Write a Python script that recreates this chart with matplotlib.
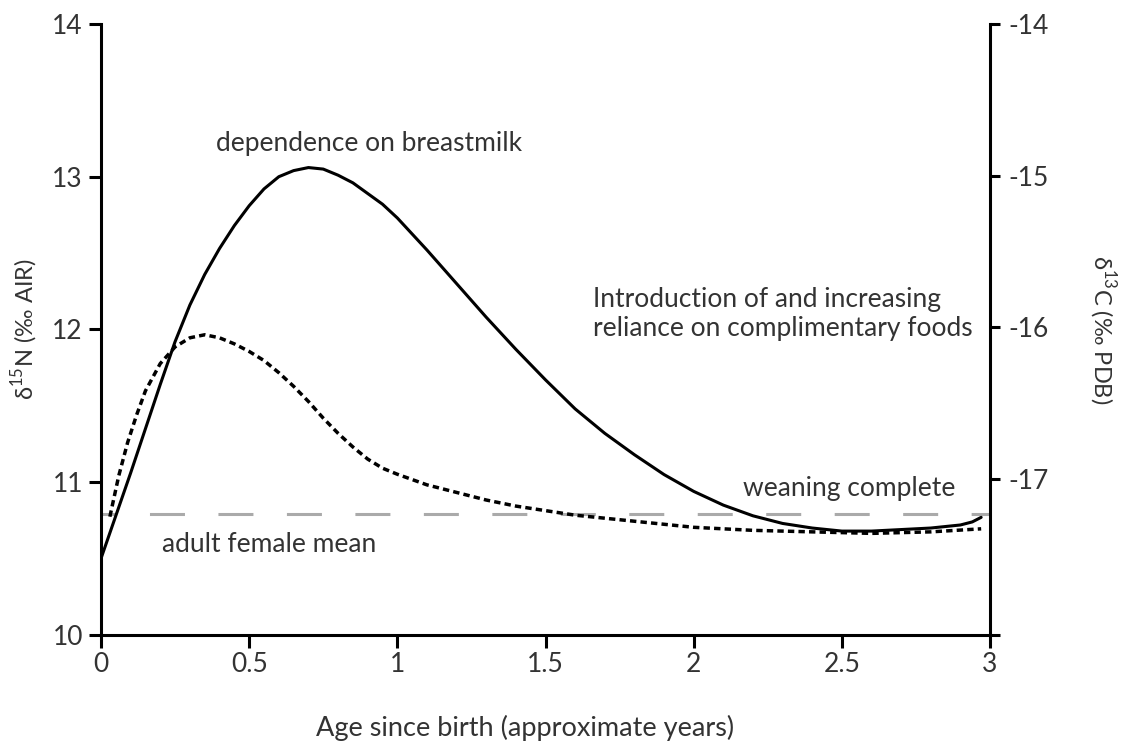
import matplotlib
matplotlib.use('Agg')
import matplotlib.pyplot as plt

plt.rcParams['font.family'] = ['Lato', 'DejaVu Sans']
plt.rcParams['mathtext.fontset'] = 'custom'
plt.rcParams['mathtext.rm'] = 'Lato'
plt.rcParams['lines.scale_dashes'] = False

# age (years) and d15N (left axis) - solid curve
age_n = [0.00, 0.05, 0.10, 0.15, 0.20, 0.25, 0.30, 0.35, 0.40, 0.45, 0.50, 0.55,
         0.60, 0.65, 0.70, 0.75, 0.80, 0.85, 0.90, 0.95, 1.00, 1.10, 1.20, 1.30,
         1.40, 1.50, 1.60, 1.70, 1.80, 1.90, 2.00, 2.10, 2.20, 2.30, 2.40, 2.50,
         2.60, 2.70, 2.80, 2.90, 2.94, 2.97]
d15n = [10.50, 10.78, 11.06, 11.35, 11.64, 11.92, 12.16, 12.36, 12.53, 12.68, 12.81, 12.92,
        13.00, 13.04, 13.06, 13.05, 13.01, 12.96, 12.89, 12.82, 12.73, 12.52, 12.30, 12.08,
        11.87, 11.67, 11.48, 11.32, 11.18, 11.05, 10.94, 10.85, 10.78, 10.73, 10.70, 10.68,
        10.68, 10.69, 10.70, 10.72, 10.74, 10.77]

# age (years) and d13C (right axis) - dotted curve
age_c = [0.03, 0.06, 0.09, 0.12, 0.15, 0.20, 0.25, 0.30, 0.35, 0.40, 0.45, 0.50,
         0.55, 0.60, 0.65, 0.70, 0.75, 0.80, 0.85, 0.90, 0.95, 1.00, 1.10, 1.20,
         1.30, 1.40, 1.50, 1.60, 1.70, 1.80, 1.90, 2.00, 2.20, 2.40, 2.60, 2.80, 2.97]
d13c = [-17.25, -16.98, -16.76, -16.58, -16.42, -16.24, -16.13, -16.07, -16.05, -16.07, -16.11, -16.16,
        -16.22, -16.30, -16.39, -16.49, -16.60, -16.70, -16.79, -16.87, -16.93, -16.97, -17.04, -17.09,
        -17.14, -17.18, -17.21, -17.24, -17.26, -17.28, -17.30, -17.32, -17.34, -17.35, -17.36, -17.35, -17.33]

adult_female_mean = 10.79

x_ticks = [0, 0.5, 1, 1.5, 2, 2.5, 3]
x_ticklabels = ['0', '0.5', '1', '1.5', '2', '2.5', '3']
left_ticks = [10, 11, 12, 13, 14]
right_ticks = [-18.03, -17, -16, -15, -14]
right_ticklabels = ['', '-17', '-16', '-15', '-14']

txt = '#333333'

fig = plt.figure(figsize=(11.22, 7.47), dpi=100)
ax = fig.add_axes([0.09, 0.15, 0.7924, 0.8179])
ax2 = ax.twinx()

ax.axhline(adult_female_mean, color='#aaaaaa', lw=2.2, linestyle=(14.4, (25.2, 24.1)), zorder=1)
ax.plot(age_n, d15n, color='black', lw=2.2, solid_capstyle='round', zorder=3)
ax2.plot(age_c, d13c, color='black', lw=2.5, linestyle=(0, (4.6, 3.0)), zorder=3)

ax.set_xlim(0, 3)
ax.set_ylim(10, 14)
ax2.set_ylim(-18.03, -14)

ax.set_xticks(x_ticks)
ax.set_xticklabels(x_ticklabels)
ax.set_yticks(left_ticks)
ax2.set_yticks(right_ticks)
ax2.set_yticklabels(right_ticklabels)

for a in (ax, ax2):
    a.spines['top'].set_visible(False)
    for s in a.spines.values():
        s.set_linewidth(2.2)
ax.spines['right'].set_visible(False)
ax2.spines['left'].set_visible(False)
ax2.spines['bottom'].set_visible(False)

ax.tick_params(axis='both', direction='out', length=9, width=2.2, labelsize=19, colors='black',
               labelcolor=txt)
ax.tick_params(axis='y', pad=4)
ax.tick_params(axis='x', pad=3)
ax2.tick_params(axis='y', direction='out', length=7, width=2.2, labelsize=19, labelcolor=txt, pad=6)

fig.text(525 / 1122, 1 - 728 / 747, 'Age since birth (approximate years)', fontsize=19.5,
         color=txt, ha='center', va='center')
ax.set_ylabel('δ$^{15}$N (‰ AIR)', fontsize=17, color=txt, va='center')
ax.yaxis.set_label_coords(-0.0855, 0.5)
ax2.set_ylabel('δ$^{13}$C (‰ PDB)', fontsize=17, color=txt, rotation=270, va='center')
ax2.yaxis.set_label_coords(1.126, 0.5)

ax.text(0.904, 13.22, 'dependence on breastmilk', fontsize=19, color=txt, ha='center', va='center')
ax.text(1.66, 12.10, 'Introduction of and increasing\nreliance on complimentary foods',
        fontsize=19, color=txt, ha='left', va='center', linespacing=1.2)
ax.text(2.165, 10.96, 'weaning complete', fontsize=19, color=txt, ha='left', va='center')
ax.text(0.206, 10.59, 'adult female mean', fontsize=19, color=txt, ha='left', va='center')

fig.savefig('out.png', dpi=100)
